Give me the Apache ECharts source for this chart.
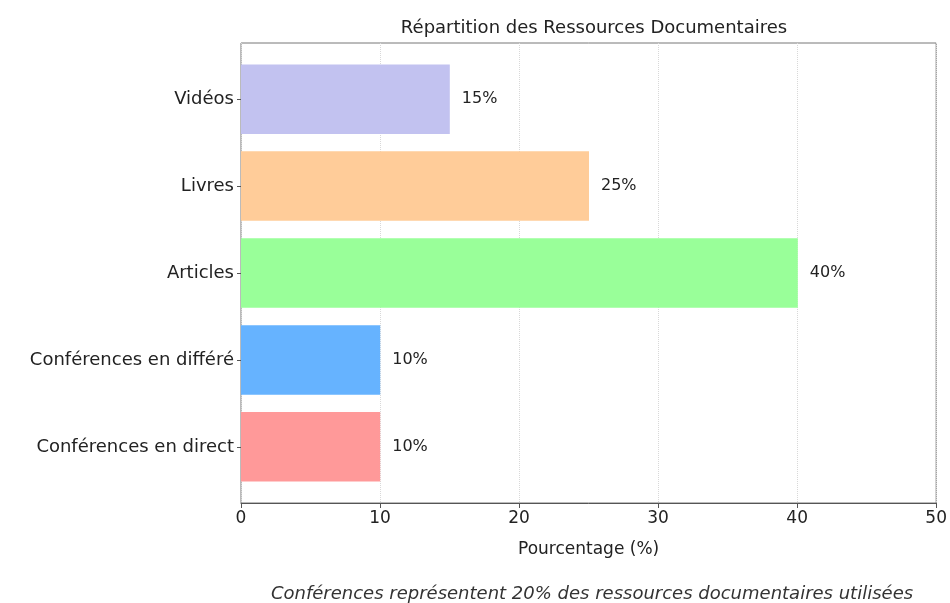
<!DOCTYPE html>
<html><head><meta charset="utf-8">
<script src="https://cdn.jsdelivr.net/npm/echarts@6/dist/echarts.min.js"></script>
<style>html,body{margin:0;padding:0;background:#fff}#c{width:950px;height:603px}</style>
</head><body><div id="c"></div>
<script>
const categories = ['Conférences en direct', 'Conférences en différé', 'Articles', 'Livres', 'Vidéos'];
const values = [10, 10, 40, 25, 15];
const colors = ['#ff9999', '#66b3ff', '#99ff99', '#ffcc99', '#c2c2f0'];
const xTicks = [0, 10, 20, 30, 40, 50];
const titleText = 'Répartition des Ressources Documentaires';
const xName = 'Pourcentage (%)';
const footnote = 'Conférences représentent 20% des ressources documentaires utilisées';

const FONT = 'DejaVu Sans';
const chart = echarts.init(document.getElementById('c'), null, {renderer: 'canvas'});
const L = 241, R = 13;
chart.setOption({
  animation: false,
  textStyle: {fontFamily: FONT},
  title: [
    {text: titleText, left: 589, top: 14, textAlign: 'center',
     textStyle: {fontFamily: FONT, fontSize: 18, fontWeight: 'normal', color: '#222'}},
    {text: footnote, left: 587, top: 580, textAlign: 'center',
     textStyle: {fontFamily: FONT, fontSize: 18, fontWeight: 'normal', fontStyle: 'italic', color: '#333'}}
  ],
  grid: [
    {left: L, right: R, top: 43, bottom: 100, show: true, borderColor: '#777', borderWidth: 1, backgroundColor: 'transparent'},
    {left: L, right: R, top: 55.7, bottom: 112.7}
  ],
  xAxis: [
    {type: 'value', gridIndex: 0, min: xTicks[0], max: xTicks[xTicks.length-1], interval: 10,
     name: xName, nameLocation: 'middle', nameGap: 38,
     nameTextStyle: {fontFamily: FONT, fontSize: 17, color: '#222'},
     axisLine: {show: true, lineStyle: {color: '#555'}},
     axisTick: {show: true, length: 5, lineStyle: {color: '#555'}},
     axisLabel: {fontFamily: FONT, fontSize: 17, color: '#222', margin: 7},
     splitLine: {show: true, lineStyle: {color: '#d8d8d8', type: 'dotted'}}},
    {type: 'value', gridIndex: 1, min: 0, max: 50, show: false}
  ],
  yAxis: [
    {type: 'value', gridIndex: 0, show: false, min: 0, max: 1},
    {type: 'category', gridIndex: 1, data: categories,
     axisLine: {show: false},
     axisTick: {show: true, alignWithLabel: true, length: 4, lineStyle: {color: '#555'}},
     axisLabel: {fontFamily: FONT, fontSize: 18, color: '#222', margin: 7},
     splitLine: {show: false}}
  ],
  series: [{
    type: 'bar', xAxisIndex: 1, yAxisIndex: 1,
    barCategoryGap: '20%',
    data: values.map((v, i) => ({value: v, itemStyle: {color: colors[i]}})),
    label: {show: true, position: 'right', distance: 12, formatter: '{c}%',
            fontFamily: FONT, fontSize: 16, color: '#222'}
  }]
});
</script></body></html>
